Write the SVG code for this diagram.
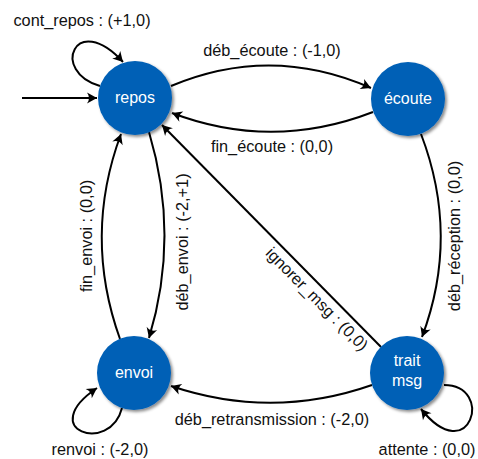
<svg xmlns="http://www.w3.org/2000/svg" width="478" height="459" viewBox="0 0 478 459">
<style>
.node circle{fill:#0560b6;filter:url(#sh)}
.node text{fill:#fff;font-family:"Liberation Sans",Arial,sans-serif;font-size:16px;text-anchor:middle}
.edge path{fill:none;stroke:#000;stroke-width:2;marker-end:url(#ar)}
.lbl{font-family:"Liberation Sans",Arial,sans-serif;font-size:16.3px;fill:#111;text-anchor:middle}
</style>
<defs>
<filter id="sh" x="-30%" y="-30%" width="160%" height="160%">
<feDropShadow dx="2" dy="2" stdDeviation="1.6" flood-color="#000" flood-opacity="0.45"/>
</filter>
<marker id="ar" markerWidth="14" markerHeight="14" refX="1" refY="0" viewBox="-12 -7 14 14" orient="auto" markerUnits="userSpaceOnUse">
<path d="M1,0 L-9,-5.5 Q-5,0 -9,5.5 Z" fill="#000"/>
</marker>
</defs>
<g id="edges" class="edge">
<path d="M22,98 L97,98"/>
<path d="M100,86 C50,72 75,10 123,62"/>
<path d="M171,86 Q271,44 371,88"/>
<path d="M373,112 Q272,151 172,113"/>
<path d="M149,132 Q180,236 149,338"/>
<path d="M120,339 Q83,236 121,134"/>
<path d="M381,347 L162,125"/>
<path d="M421,134 Q460,236 422,337"/>
<path d="M372,385 Q272,420 171,386"/>
<path d="M122,408 C110,455 35,430 97,388"/>
<path d="M444,385 C495,385 470,470 421,409"/>
</g>
<g id="labels">
<text class="lbl" x="82" y="26">cont_repos : (+1,0)</text>
<text class="lbl" x="272" y="56">déb_écoute : (-1,0)</text>
<text class="lbl" x="272" y="152">fin_écoute : (0,0)</text>
<text class="lbl" transform="translate(460,236) rotate(-90)">déb_réception : (0,0)</text>
<text class="lbl" transform="translate(188,242) rotate(-90)">déb_envoi : (-2,+1)</text>
<text class="lbl" transform="translate(92,236) rotate(-90)">fin_envoi : (0,0)</text>
<text class="lbl" transform="translate(313,303) rotate(45.3)">ignorer_msg : (0,0)</text>
<text class="lbl" x="272" y="425">déb_retransmission : (-2,0)</text>
<text class="lbl" x="100" y="455">renvoi : (-2,0)</text>
<text class="lbl" x="427" y="455">attente : (0,0)</text>
</g>
<g id="repos" class="node"><circle cx="135" cy="98" r="37"/><text x="135" y="103">repos</text></g>
<g id="ecoute" class="node"><circle cx="408" cy="99" r="37"/><text x="408" y="104">écoute</text></g>
<g id="envoi" class="node"><circle cx="134" cy="373" r="37"/><text x="134" y="378">envoi</text></g>
<g id="trait_msg" class="node"><circle cx="407" cy="373" r="37"/><text x="407" y="366">trait</text><text x="407" y="386">msg</text></g>
</svg>
